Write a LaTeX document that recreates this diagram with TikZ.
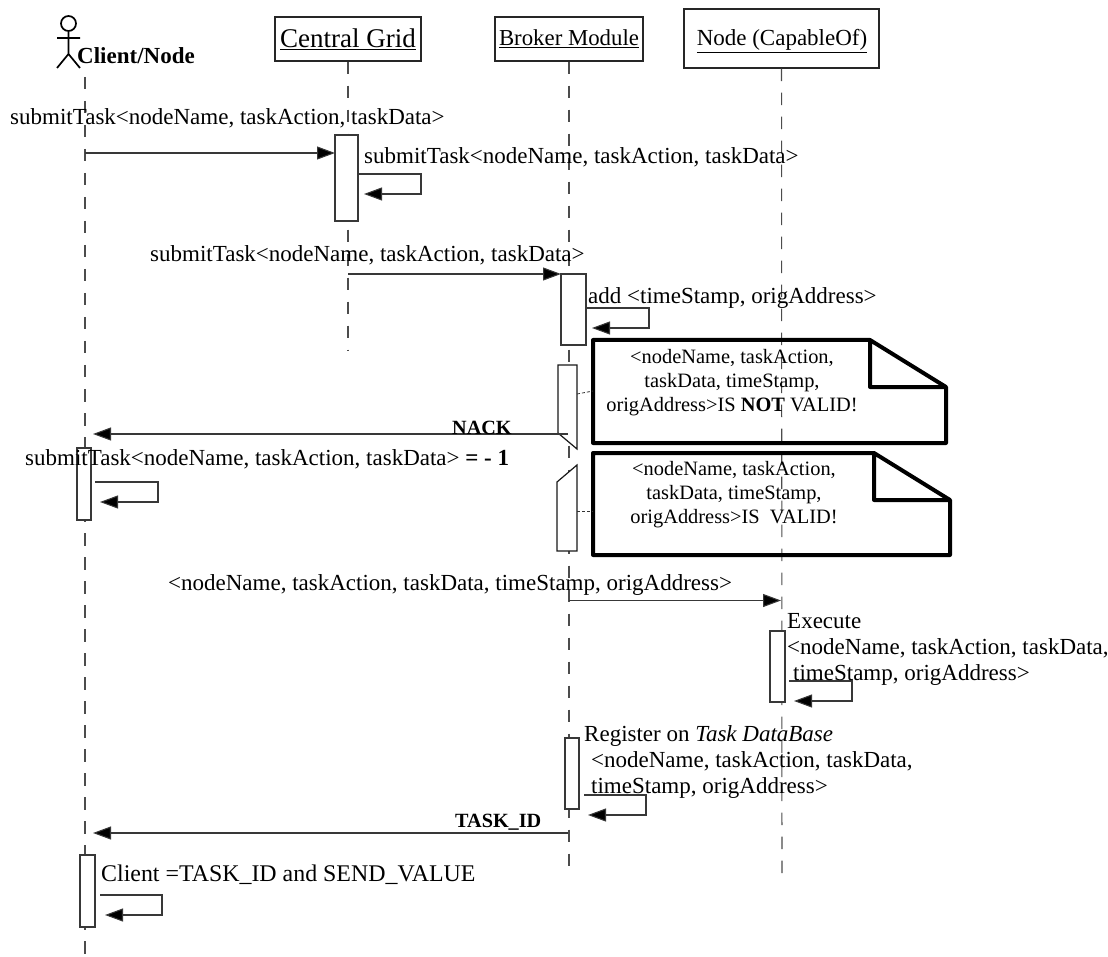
\documentclass[tikz,border=0pt]{standalone}
\usepackage{fontspec}
\setmainfont{Liberation Serif}
\usetikzlibrary{arrows.meta}
\newcommand{\lbl}{\fontsize{23}{25}\selectfont}
\tikzset{
 x=1pt,y=-1pt,
 line/.style={draw=black!78,line width=1.05pt},
 life/.style={draw=black!70,line width=1.05pt,dash pattern=on 12.5pt off 11.5pt},
 msg/.style={line,-{Triangle[length=18pt,width=13pt,fill=black]}},
 actbar/.style={line,fill=white},
 cutbar/.style={draw=black!90,line width=1.2pt,fill=white},
 headbox/.style={draw=black!85,line width=1.05pt,inner sep=0pt,fill=white},
 txt/.style={anchor=base west,inner sep=0pt,font=\lbl,text=black},
 notebox/.style={draw=black,line width=4pt,line join=round,fill=none},
 ctxt/.style={anchor=base,inner sep=0pt,align=center,font=\fontsize{20.4}{24}\selectfont,text=black},
 boldlbl/.style={txt,font=\fontsize{20.2}{22}\selectfont\bfseries},
}
\begin{document}
\begin{tikzpicture}
\useasboundingbox (0,0) rectangle (1108,957);
% head boxes
\node[headbox,minimum width=146pt,minimum height=44pt] (central) at (348,39) {};
\node[headbox,minimum width=148pt,minimum height=44pt] (broker) at (569,39) {};
\node[headbox,minimum width=195pt,minimum height=59pt] (capable) at (781.5,38.5) {};
\node[anchor=base,inner sep=0pt,font=\fontsize{27}{29}\selectfont] (centralT) at (348,48) {\underline{Central Grid}};
\node[anchor=base,inner sep=0pt,font=\fontsize{22.8}{25}\selectfont] (brokerT) at (569,46) {\underline{Broker Module}};
\node[anchor=base,inner sep=0pt,font=\fontsize{23}{25}\selectfont] (capableT) at (782,46) {\underline{Node (CapableOf)}};
% actor
\node[circle,draw=black,line width=1.7pt,minimum size=15pt,inner sep=0pt] (head) at (68.5,23.5) {};
\coordinate (hip) at (68.5,54);
\coordinate (armL) at (57,38); \coordinate (armR) at (80,38);
\coordinate (legL) at (57,68); \coordinate (legR) at (80,68);
\draw[line width=1.7pt,draw=black] (head) -- (hip) (armL) -- (armR) (legL) -- (hip) -- (legR);
\node[txt,font=\fontsize{23}{25}\selectfont\bfseries] (clientT) at (77,64) {Client/Node};
% lifelines
\coordinate (c0) at (85,77); \coordinate (c1) at (85,957);
\coordinate (g1) at (348,350);
\coordinate (b1) at (569,873);
\coordinate (n1) at (782,880);
\draw[life] (c0) -- (c1);
\draw[life] (central.south) -- (g1);
\draw[life] (broker.south) -- (b1);
\draw[life] (capable.south) -- (n1);
% activations
\node[actbar,minimum width=23pt,minimum height=86pt,inner sep=0pt] (a1) at (346.5,178) {};
\node[actbar,minimum width=25pt,minimum height=71pt,inner sep=0pt] (a2) at (573.5,309.5) {};
\node[actbar,minimum width=14pt,minimum height=72pt,inner sep=0pt] (a3) at (84,484) {};
\node[actbar,minimum width=15pt,minimum height=71pt,inner sep=0pt] (a4) at (777.5,666.5) {};
\node[actbar,minimum width=14pt,minimum height=71pt,inner sep=0pt] (a5) at (572,773.5) {};
\node[actbar,minimum width=15pt,minimum height=72pt,inner sep=0pt] (a6) at (87.5,891) {};
% cut bars
\coordinate (p1) at (558,365); \coordinate (p2) at (577,365); \coordinate (p3) at (577,449); \coordinate (p4) at (558,433);
\filldraw[cutbar] (p1) -- (p2) -- (p3) -- (p4) -- cycle;
\coordinate (q1) at (557,551); \coordinate (q2) at (577,551); \coordinate (q3) at (577,465); \coordinate (q4) at (557,482);
\filldraw[cutbar] (q1) -- (q2) -- (q3) -- (q4) -- cycle;
% notes
\coordinate (n1a) at (593,340); \coordinate (n1b) at (870,340); \coordinate (n1c) at (946,387); \coordinate (n1d) at (946,443); \coordinate (n1e) at (593,443); \coordinate (n1f) at (870,387);
\draw[notebox] (n1a) -- (n1b) -- (n1c) -- (n1d) -- (n1e) -- cycle (n1b) -- (n1f) -- (n1c);
\coordinate (n2a) at (593,453); \coordinate (n2b) at (874,453); \coordinate (n2c) at (950,500); \coordinate (n2d) at (950,555); \coordinate (n2e) at (593,555); \coordinate (n2f) at (874,500);
\draw[notebox] (n2a) -- (n2b) -- (n2c) -- (n2d) -- (n2e) -- cycle (n2b) -- (n2f) -- (n2c);
\node[ctxt] (note1T) at (732,411) {<nodeName, taskAction,\\taskData, timeStamp,\\origAddress>IS \textbf{NOT} VALID!};
\node[ctxt] (note2T) at (734,523) {<nodeName, taskAction,\\taskData, timeStamp,\\origAddress>IS\ \ VALID!};
\coordinate (d1a) at (577,394); \coordinate (d1b) at (593,391);
\coordinate (d2a) at (577,511); \coordinate (d2b) at (593,511);
\draw[black!80,line width=.8pt,dash pattern=on 3pt off 2pt] (d1a) -- (d1b);
\draw[black!80,line width=.8pt,dash pattern=on 3pt off 2pt] (d2a) -- (d2b);
% messages
\coordinate (m1a) at (85,153); \coordinate (m1b) at (335,153);
\draw[msg] (m1a) -- (m1b);
\coordinate (m2a) at (348,274); \coordinate (m2b) at (561,274);
\draw[msg] (m2a) -- (m2b);
\coordinate (m3a) at (568,434); \coordinate (m3b) at (93,434);
\draw[msg] (m3a) -- (m3b);
\coordinate (m4a) at (569,600.5); \coordinate (m4b) at (781,600.5);
\draw[msg] (m4a) -- (m4b);
\coordinate (m5a) at (568,833); \coordinate (m5b) at (93,833);
\draw[msg] (m5a) -- (m5b);
% self loops
\coordinate (s1a) at (358,174); \coordinate (s1c) at (421,174); \coordinate (s1d) at (421,194); \coordinate (s1b) at (364,194);
\draw[msg] (s1a) -- (s1c) -- (s1d) -- (s1b);
\coordinate (s2a) at (586,308); \coordinate (s2c) at (649,308); \coordinate (s2d) at (649,328); \coordinate (s2b) at (592,328);
\draw[msg] (s2a) -- (s2c) -- (s2d) -- (s2b);
\coordinate (s3a) at (95,482); \coordinate (s3c) at (158,482); \coordinate (s3d) at (158,502); \coordinate (s3b) at (100,502);
\draw[msg] (s3a) -- (s3c) -- (s3d) -- (s3b);
\coordinate (s4a) at (789,681); \coordinate (s4c) at (852,681); \coordinate (s4d) at (852,701); \coordinate (s4b) at (794,701);
\draw[msg] (s4a) -- (s4c) -- (s4d) -- (s4b);
\coordinate (s5a) at (584,795); \coordinate (s5c) at (646,795); \coordinate (s5d) at (646,815); \coordinate (s5b) at (588,815);
\draw[msg] (s5a) -- (s5c) -- (s5d) -- (s5b);
\coordinate (s6a) at (100,895); \coordinate (s6c) at (162,895); \coordinate (s6d) at (162,915); \coordinate (s6b) at (105,915);
\draw[msg] (s6a) -- (s6c) -- (s6d) -- (s6b);
% labels
\node[txt] (t1) at (10,125) {submitTask<nodeName, taskAction, taskData>};
\node[txt] (t2) at (364,163.5) {submitTask<nodeName, taskAction, taskData>};
\node[txt] (t3) at (150,262) {submitTask<nodeName, taskAction, taskData>};
\node[txt] (t4) at (588,303.5) {add <timeStamp, origAddress>};
\node[txt] (t5) at (25,465.5) {submitTask<nodeName, taskAction, taskData> \textbf{= - 1}};
\node[txt] (t6) at (168,590.5) {<nodeName, taskAction, taskData, timeStamp, origAddress>};
\node[txt] (t7) at (787,628.5) {Execute};
\node[txt] (t8) at (787,654.5) {<nodeName, taskAction, taskData,};
\node[txt] (t9) at (793,680.5) {timeStamp, origAddress>};
\node[txt] (t10) at (584,741) {Register on \textit{Task DataBase}};
\node[txt] (t11) at (591,767) {<nodeName, taskAction, taskData,};
\node[txt] (t12) at (591,793.5) {timeStamp, origAddress>};
\node[txt,font=\fontsize{23.9}{26}\selectfont] (t13) at (101,881.5) {Client =TASK\_ID and SEND\_VALUE};
\node[boldlbl] (nack) at (452,434) {NACK};
\node[boldlbl] (taskid) at (455,827) {TASK\_ID};
\end{tikzpicture}
\end{document}
